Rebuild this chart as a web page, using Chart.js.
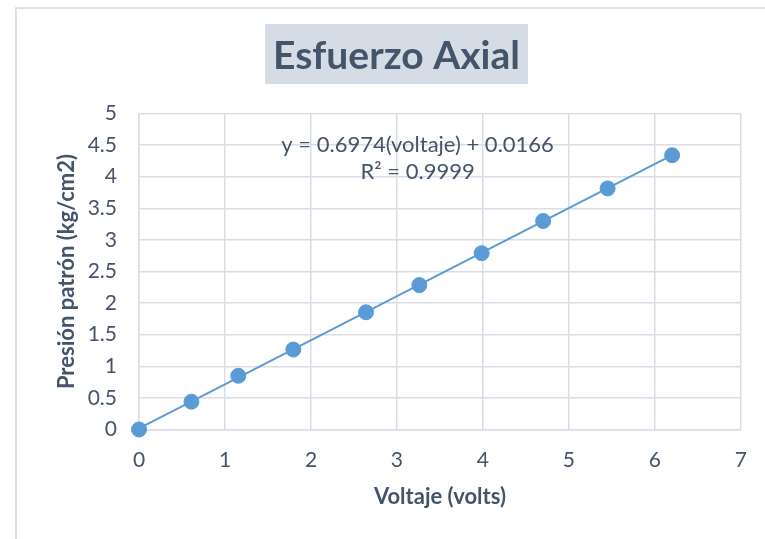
<!DOCTYPE html>
<html>
<head>
<meta charset="utf-8">
<script src="https://cdn.jsdelivr.net/npm/chart.js@4"></script>
<style>
  html, body { margin: 0; padding: 0; background: #fff; }
  #wrap { width: 765px; height: 539px; position: relative; }
</style>
</head>
<body>
<div id="wrap"><canvas id="chart" width="765" height="539"></canvas></div>
<script>
// voltaje (volts) vs presion patron (kg/cm2)
const voltaje = [0, 0.61, 1.155, 1.795, 2.64, 3.26, 3.985, 4.70, 5.45, 6.20]
const presion = [0, 0.44, 0.85, 1.265, 1.855, 2.285, 2.79, 3.30, 3.815, 4.34]

// linear trendline endpoints (y = 0.6974x + 0.0166)
const trendX = [0, 6.20]
const trendY = [0.0166, 4.340]

const chartTitle = 'Esfuerzo Axial'
const eqLines = ['y = 0.6974(voltaje) + 0.0166', 'R² = 0.9999']

const textColor = '#44546a'
const gridColor = '#d9dee6'
const blue = '#5b9bd5'
const fontFamily = 'Lato, "Open Sans", sans-serif'

// outer frame, title box and trendline label
const framePlugin = {
  id: 'frame',
  beforeDraw(chart) {
    const ctx = chart.ctx
    ctx.save()
    ctx.fillStyle = '#fff'
    ctx.fillRect(0, 0, chart.width, chart.height)
    ctx.strokeStyle = '#dde2ea'
    ctx.lineWidth = 2
    ctx.beginPath()
    ctx.moveTo(16, chart.height)
    ctx.lineTo(16, 8)
    ctx.lineTo(chart.width, 8)
    ctx.stroke()

    ctx.fillStyle = '#d6dce5'
    ctx.fillRect(265, 24, 263, 60)
    ctx.font = 'bold 39px ' + fontFamily
    ctx.fillStyle = textColor
    ctx.textAlign = 'center'
    ctx.textBaseline = 'middle'
    ctx.fillText(chartTitle, 396.5, 56)
    ctx.restore()
  },
  afterDatasetsDraw(chart) {
    const ctx = chart.ctx
    const xs = chart.scales.x
    const ys = chart.scales.y
    ctx.save()
    ctx.font = '22px ' + fontFamily
    ctx.fillStyle = textColor
    ctx.textAlign = 'center'
    ctx.textBaseline = 'middle'
    ctx.fillText(eqLines[0], xs.getPixelForValue(3.24), ys.getPixelForValue(4.51))
    ctx.fillText(eqLines[1], xs.getPixelForValue(3.24), ys.getPixelForValue(4.07))
    ctx.restore()
  }
}

const points = voltaje.map((v, i) => ({ x: v, y: presion[i] }))
const trend = trendX.map((v, i) => ({ x: v, y: trendY[i] }))

new Chart(document.getElementById('chart'), {
  type: 'scatter',
  data: {
    datasets: [
      {
        label: 'trend',
        data: trend,
        type: 'line',
        borderColor: blue,
        borderWidth: 2,
        pointRadius: 0,
        fill: false,
        clip: false,
        order: 0
      },
      {
        label: 'Presión',
        data: points,
        backgroundColor: blue,
        borderColor: blue,
        pointRadius: 7.5,
        pointBorderWidth: 1,
        clip: false,
        order: 1
      }
    ]
  },
  options: {
    responsive: false,
    animation: false,
    layout: { padding: { top: 113.5, right: 24, bottom: 0, left: 0 } },
    plugins: {
      legend: { display: false },
      title: { display: false },
      tooltip: { enabled: false }
    },
    scales: {
      x: {
        type: 'linear',
        min: 0,
        max: 7,
        ticks: { stepSize: 1, color: textColor, padding: 18, font: { family: fontFamily, size: 21 } },
        grid: { color: gridColor, lineWidth: 1.5, drawTicks: false },
        border: { color: gridColor, width: 1.5 },
        title: {
          display: true,
          text: 'Voltaje (volts)',
          color: textColor,
          font: { family: fontFamily, size: 22, weight: 'bold' },
          padding: { top: 0, bottom: 29 }
        },
        afterFit(scale) { scale.height = 109.5 }
      },
      y: {
        min: 0,
        max: 5,
        ticks: {
          stepSize: 0.5,
          color: textColor,
          padding: 22,
          font: { family: fontFamily, size: 21 },
          callback: (v) => String(v)
        },
        grid: { color: gridColor, lineWidth: 1.5, drawTicks: false },
        border: { color: gridColor, width: 1.5 },
        title: {
          display: true,
          text: 'Presión patrón (kg/cm2)',
          color: textColor,
          font: { family: fontFamily, size: 22, weight: 'bold' },
          padding: { top: 54, bottom: 0 }
        },
        afterFit(scale) { scale.width = 139 }
      }
    }
  },
  plugins: [framePlugin]
})
</script>
</body>
</html>
